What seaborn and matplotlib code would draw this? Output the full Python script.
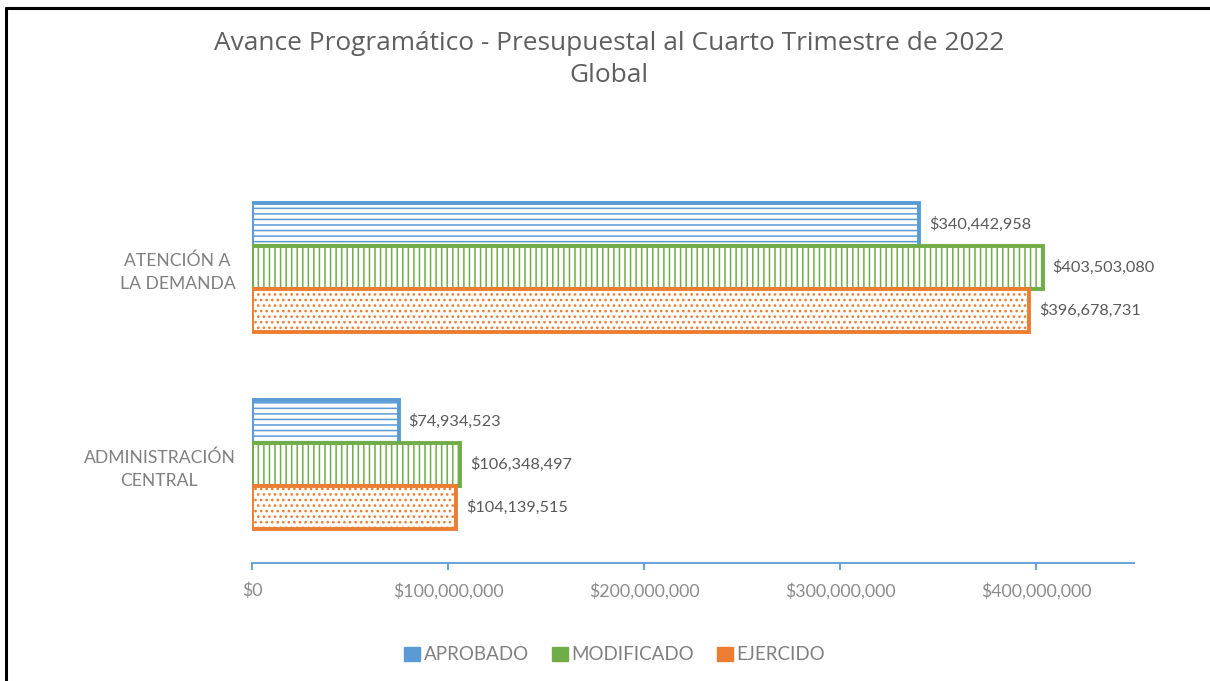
import pandas as pd
import matplotlib
matplotlib.use("Agg")
import matplotlib.pyplot as plt
from matplotlib.patches import Patch
from matplotlib.lines import Line2D
from matplotlib.ticker import FuncFormatter
import seaborn as sns

# data
categorias = ["ATENCIÓN A\nLA DEMANDA", "ADMINISTRACIÓN\nCENTRAL"]
series = ["APROBADO", "MODIFICADO", "EJERCIDO"]
aprobado = [340442958, 74934523]
modificado = [403503080, 106348497]
ejercido = [396678731, 104139515]
ticks = [0, 100000000, 200000000, 300000000, 400000000]

colores = ["#5B9BD5", "#70AD47", "#ED7D31"]
hatches = ["---", "|||", "..."]

df = pd.DataFrame({
    "categoria": categorias * 3,
    "serie": [s for s in series for _ in categorias],
    "monto": aprobado + modificado + ejercido,
})

sns.set_style("white")
plt.rcParams["font.family"] = ["Lato", "DejaVu Sans"]
plt.rcParams["hatch.linewidth"] = 1.1

fig = plt.figure(figsize=(12.1, 6.81), dpi=100)
ax = fig.add_axes([252 / 1210, 1 - 563 / 681, (1134 - 252) / 1210, 394 / 681])

sns.barplot(data=df, y="categoria", x="monto", hue="serie", order=categorias,
            hue_order=series, orient="h", width=0.65, errorbar=None,
            ax=ax, legend=False)

for cont, col, h in zip(ax.containers, colores, hatches):
    for bar in cont:
        bar.set_facecolor("white")
        bar.set_edgecolor(col)
        bar.set_hatch(h)
        bar.set_linewidth(2.8)
    ax.bar_label(cont, labels=[f"${v:,.0f}" for v in cont.datavalues],
                 padding=7, fontsize=11.7, color="#595959")

ax.set_xlim(0, 450000000)
ax.set_xticks(ticks)
ax.xaxis.set_major_formatter(FuncFormatter(lambda v, p: f"${v:,.0f}"))
ax.tick_params(axis="x", colors="#5B9BD5", length=5, width=1.3, direction="out",
               bottom=True, labelcolor="#8C8C8C", labelsize=12.8, pad=9)
ax.tick_params(axis="y", length=0, labelcolor="#808080", labelsize=12.6, pad=12)
for t in ax.get_yticklabels():
    t.set_multialignment("center")
    t.set_linespacing(1.55)
for side in ["left", "right", "top"]:
    ax.spines[side].set_visible(False)
ax.spines["bottom"].set_color("#5B9BD5")
ax.spines["bottom"].set_linewidth(1.3)
ax.set_xlabel("")
ax.set_ylabel("")

fig.text(0.503, 1 - 43 / 681, "Avance Programático - Presupuestal al Cuarto Trimestre de 2022",
         ha="center", va="center", fontsize=18.9, color="#5F5F5F",
         family=["Open Sans", "DejaVu Sans"])
fig.text(0.503, 1 - 75 / 681, "Global", ha="center", va="center", fontsize=18.9,
         color="#5F5F5F", family=["Open Sans", "DejaVu Sans"])

handles = [Patch(facecolor=c, edgecolor=c) for c in colores]
fig.legend(handles, series, loc="center", bbox_to_anchor=(0.508, 1 - 655 / 681), ncol=3,
           frameon=False, handlelength=0.85, handleheight=0.85, handletextpad=0.2,
           columnspacing=1.2, prop={"size": 13.5}, labelcolor="#808080")

# frame of the screenshot
fig.add_artist(Line2D([5.5 / 1210, 1], [1 - 7.5 / 681, 1 - 7.5 / 681],
                      transform=fig.transFigure, color="black", linewidth=2.2))
fig.add_artist(Line2D([5.5 / 1210, 5.5 / 1210], [0, 1 - 7.5 / 681],
                      transform=fig.transFigure, color="black", linewidth=2.2))

fig.savefig("out.png", dpi=100, facecolor="white")
